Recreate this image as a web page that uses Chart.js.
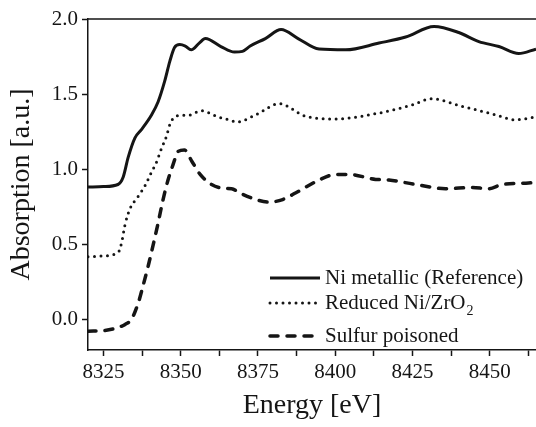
<!DOCTYPE html>
<html>
<head>
<meta charset="utf-8">
<script src="https://cdn.jsdelivr.net/npm/chart.js@4/dist/chart.umd.min.js"></script>
<style>
  html, body { margin: 0; padding: 0; background: #fff; }
  #wrap { width: 536px; height: 427px; position: relative; }
</style>
</head>
<body>
<div id="wrap"><canvas id="c" width="536" height="427"></canvas></div>
<script>
// ---- data ----
const niEnergy = [8320, 8325, 8329.7, 8331.4, 8333, 8335.2, 8337.3, 8340.5, 8342.7, 8344.8, 8346.5, 8348, 8349.7, 8351.5, 8353.4, 8356, 8358, 8363, 8367.4, 8370, 8372.5, 8377.4, 8382.5, 8388, 8394.8, 8403.4, 8414.2, 8422.8, 8432, 8440, 8446.5, 8453, 8459.4, 8465];
const niAbs    = [0.883, 0.886, 0.90, 0.95, 1.08, 1.21, 1.265, 1.36, 1.45, 1.585, 1.72, 1.81, 1.83, 1.82, 1.795, 1.84, 1.87, 1.817, 1.78, 1.785, 1.82, 1.87, 1.93, 1.87, 1.80, 1.795, 1.84, 1.88, 1.95, 1.91, 1.85, 1.817, 1.77, 1.80];

const redEnergy = [8320, 8325, 8329.8, 8330.9, 8331.9, 8333.5, 8336.2, 8338.4, 8340.5, 8342.2, 8343.8, 8345.4, 8346.5, 8347.6, 8350, 8352.4, 8356.7, 8362, 8366.4, 8368, 8374.4, 8381.9, 8390.5, 8400.2, 8414.2, 8425, 8431, 8441, 8451.8, 8458.3, 8465];
const redAbs    = [0.42, 0.425, 0.45, 0.515, 0.625, 0.735, 0.82, 0.89, 0.98, 1.05, 1.14, 1.22, 1.30, 1.34, 1.36, 1.36, 1.39, 1.35, 1.325, 1.315, 1.364, 1.437, 1.353, 1.336, 1.375, 1.43, 1.47, 1.42, 1.364, 1.33, 1.35];

const sulEnergy = [8320, 8325.5, 8329.8, 8332, 8334.1, 8336.3, 8337.8, 8339.5, 8341, 8342.7, 8344.3, 8345.9, 8347.5, 8349.2, 8351.2, 8353.6, 8356.3, 8360, 8364.2, 8366.5, 8369, 8374.4, 8378.7, 8383, 8387.3, 8394.8, 8400.2, 8404.5, 8413.1, 8417.4, 8426, 8435.7, 8444.3, 8449.7, 8454, 8462.6, 8465];
const sulAbs    = [-0.075, -0.07, -0.05, -0.03, 0.005, 0.115, 0.225, 0.36, 0.49, 0.645, 0.80, 0.93, 1.03, 1.12, 1.13, 1.055, 0.967, 0.90, 0.874, 0.872, 0.845, 0.80, 0.783, 0.80, 0.845, 0.93, 0.967, 0.967, 0.934, 0.93, 0.90, 0.872, 0.88, 0.872, 0.90, 0.91, 0.915];

const seriesLabels = ['Ni metallic (Reference)', 'Reduced Ni/ZrO', 'Sulfur poisoned'];
const seriesSubscripts = ['', '2', ''];

const xTickValues = [8325, 8337.5, 8350, 8362.5, 8375, 8387.5, 8400, 8412.5, 8425, 8437.5, 8450, 8462.5];
const xLabelStep = 25;
const yTickValues = [0.0, 0.5, 1.0, 1.5, 2.0];
const xTitle = 'Energy [eV]';
const yTitle = 'Absorption [a.u.]';

// ---- build ----
function pts(xs, ys) {
  const n = Math.min(xs.length, ys.length);
  const out = [];
  for (let i = 0; i < n; i++) out.push({x: xs[i], y: ys[i]});
  return out;
}

const INK = '#151515';
const SERIF = "'Liberation Serif', 'Times New Roman', serif";

const styles = [
  {borderWidth: 3, borderDash: [], borderCapStyle: 'butt'},
  {borderWidth: 3, borderDash: [0, 6.5], borderCapStyle: 'round'},
  {borderWidth: 3.5, borderDash: [8, 9], borderCapStyle: 'round'}
];

const datasets = [
  pts(niEnergy, niAbs),
  pts(redEnergy, redAbs),
  pts(sulEnergy, sulAbs)
].map((d, i) => Object.assign({
  label: seriesLabels[i] + seriesSubscripts[i],
  data: d,
  borderColor: INK,
  backgroundColor: INK,
  pointRadius: 0,
  fill: false,
  cubicInterpolationMode: 'monotone',
  borderJoinStyle: 'round'
}, styles[i]));

const framePlugin = {
  id: 'frame',
  afterDraw(chart) {
    const {ctx, chartArea: a} = chart;
    ctx.save();
    ctx.strokeStyle = INK;
    ctx.lineWidth = 1.5;
    ctx.beginPath();
    ctx.moveTo(a.left, a.top);
    ctx.lineTo(a.right, a.top);
    ctx.stroke();

    // legend
    const rows = [278, 303, 336];
    const x0 = 270, x1 = 320, tx = 325;
    for (let i = 0; i < seriesLabels.length; i++) {
      const s = styles[i];
      ctx.lineWidth = s.borderWidth;
      ctx.lineCap = s.borderCapStyle;
      ctx.setLineDash(s.borderDash);
      ctx.beginPath();
      ctx.moveTo(x0, rows[i]);
      ctx.lineTo(x1, rows[i]);
      ctx.stroke();
      ctx.setLineDash([]);
      ctx.fillStyle = INK;
      ctx.textBaseline = 'middle';
      ctx.textAlign = 'left';
      ctx.font = "21px " + SERIF;
      ctx.fillText(seriesLabels[i], tx, rows[i]);
      if (seriesSubscripts[i]) {
        const w = ctx.measureText(seriesLabels[i]).width;
        ctx.font = "14px " + SERIF;
        ctx.fillText(seriesSubscripts[i], tx + w + 1, rows[i] + 8);
      }
    }
    ctx.restore();
  }
};

new Chart(document.getElementById('c'), {
  type: 'line',
  data: {datasets},
  plugins: [framePlugin],
  options: {
    responsive: false,
    animation: false,
    events: [],
    layout: {padding: {top: 19, right: 0, left: 0, bottom: 0}},
    plugins: {legend: {display: false}, tooltip: {enabled: false}},
    scales: {
      x: {
        type: 'linear',
        min: 8320,
        max: 8465,
        afterBuildTicks(scale) { scale.ticks = xTickValues.map(v => ({value: v})); },
        afterFit(scale) { scale.height = 77; },
        ticks: {
          autoSkip: false,
          maxRotation: 0,
          padding: 4,
          color: INK,
          font: {family: SERIF, size: 21},
          callback: v => (Math.abs(v % xLabelStep) < 1e-6 ? String(v) : '')
        },
        grid: {drawOnChartArea: false, drawTicks: true, tickLength: 6, tickWidth: 1.5, color: INK},
        border: {display: true, color: INK, width: 1.5},
        title: {display: true, text: xTitle, color: INK, font: {family: SERIF, size: 28}, padding: {top: 0, bottom: 5}}
      },
      y: {
        min: -0.2,
        max: 2.0,
        afterBuildTicks(scale) { scale.ticks = yTickValues.map(v => ({value: v})); },
        afterFit(scale) { scale.width = 88; },
        ticks: {
          padding: 4,
          color: INK,
          font: {family: SERIF, size: 21},
          callback: v => Number(v).toFixed(1)
        },
        grid: {drawOnChartArea: false, drawTicks: true, tickLength: 6, tickWidth: 1.5, color: INK},
        border: {display: true, color: INK, width: 1.5},
        title: {display: true, text: yTitle, color: INK, font: {family: SERIF, size: 28}, padding: {top: 5, bottom: 0}}
      }
    }
  }
});
</script>
</body>
</html>
